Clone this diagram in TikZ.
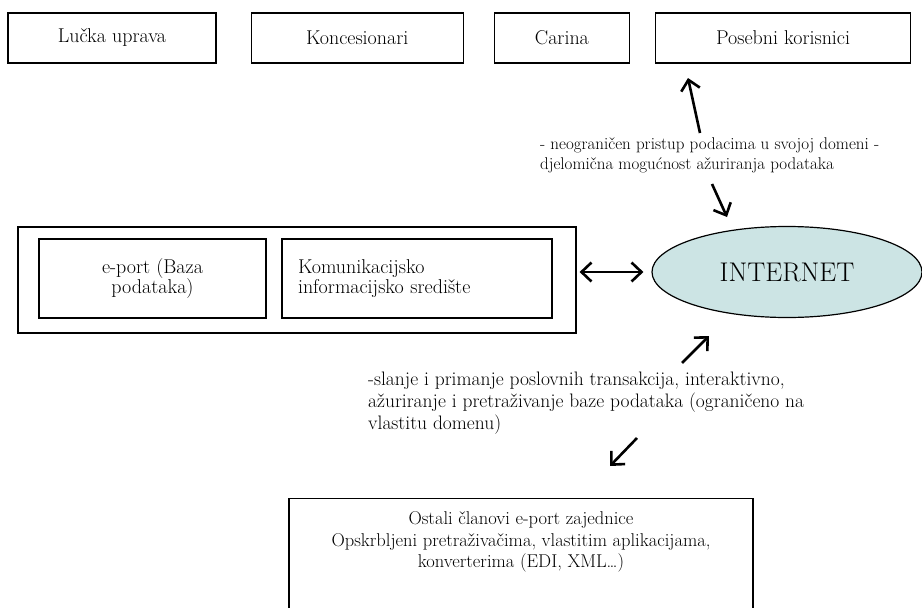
\documentclass[tikz,border=0pt]{standalone}
\usepackage{xcolor}
\usepackage{tikz}
\usetikzlibrary{positioning,arrows.meta,shapes.geometric}
\definecolor{netfill}{RGB}{204,228,228}

\begin{document}
\begin{tikzpicture}[x=1pt, y=-1pt,
    box/.style={rectangle, draw, line width=1.2pt, minimum height=50pt, align=center, font=\fontsize{20}{20}\selectfont},
    note/.style={align=left, inner sep=0pt, font=\fontsize{19.5}{22}\selectfont},
    arr/.style={-{Straight Barb[length=10pt,width=19pt]}, line width=2.6pt},
    dblarr/.style={{Straight Barb[length=10pt,width=19pt]}-{Straight Barb[length=10pt,width=19pt]}, line width=2.6pt}
  ]
    \useasboundingbox (0,0) rectangle (922,608);
    % top row
    \node[box, minimum width=208pt] (luc) at (112,38) {Lučka uprava};
    \node[box, minimum width=212pt, right=34pt of luc] (kon) {Koncesionari};
    \node[box, minimum width=135pt, right=30pt of kon] (car) {Carina};
    \node[box, minimum width=255pt, right=25pt of car] (pos) {Posebni korisnici};
    % middle row
    \node[box, minimum width=558pt, minimum height=106pt] (sys) at (297,280) {};
    \node[box, minimum width=227pt, minimum height=79pt] (base) at (152.5,278.5) {e-port (Baza\\podataka)};
    \node[box, minimum width=270pt, minimum height=79pt, text width=238pt, inner xsep=16pt, align=left] (kis) at (417,278.5) {Komunikacijsko\\informacijsko središte};
    \node[ellipse, draw, line width=1.2pt, fill=netfill, minimum width=270pt, minimum height=91pt, font=\fontsize{27}{30}\selectfont] (net) at (787,272) {INTERNET};
    % bottom box
    \node[box, minimum width=464pt, anchor=north, inner ysep=13pt, text depth=90pt, font=\fontsize{18.5}{21.5}\selectfont] (ost) at (521,498) {Ostali članovi e-port zajednice\\Opskrbljeni pretraživačima, vlastitim aplikacijama,\\konverterima (EDI, XML\dots)};
    % notes
    \node[note, anchor=north west, font=\fontsize{17}{20.5}\selectfont] (up) at (540,137) {- neograničen pristup podacima u svojoj domeni -\\djelomična mogućnost ažuriranja podataka};
    \node[note, anchor=north west] (low) at (368,372) {-slanje i primanje poslovnih transakcija, interaktivno,\\ažuriranje i pretraživanje baze podataka (ograničeno na\\vlastitu domenu)};
    % arrow ends
    \coordinate (u1) at (700,133); \coordinate (u2) at (688,78);
    \coordinate (u3) at (712,184); \coordinate (u4) at (727,217);
    \coordinate (l1) at (682,363); \coordinate (l2) at (709,336);
    \coordinate (l3) at (637,438); \coordinate (l4) at (610,466);
    \draw[arr] (u1)--(u2); \draw[arr] (u3)--(u4);
    \draw[arr] (l1)--(l2); \draw[arr] (l3)--(l4);
    \draw[dblarr, shorten <=3pt, shorten >=8pt] (sys.east |- net.west) -- (net.west);
  \end{tikzpicture}
\end{document}
